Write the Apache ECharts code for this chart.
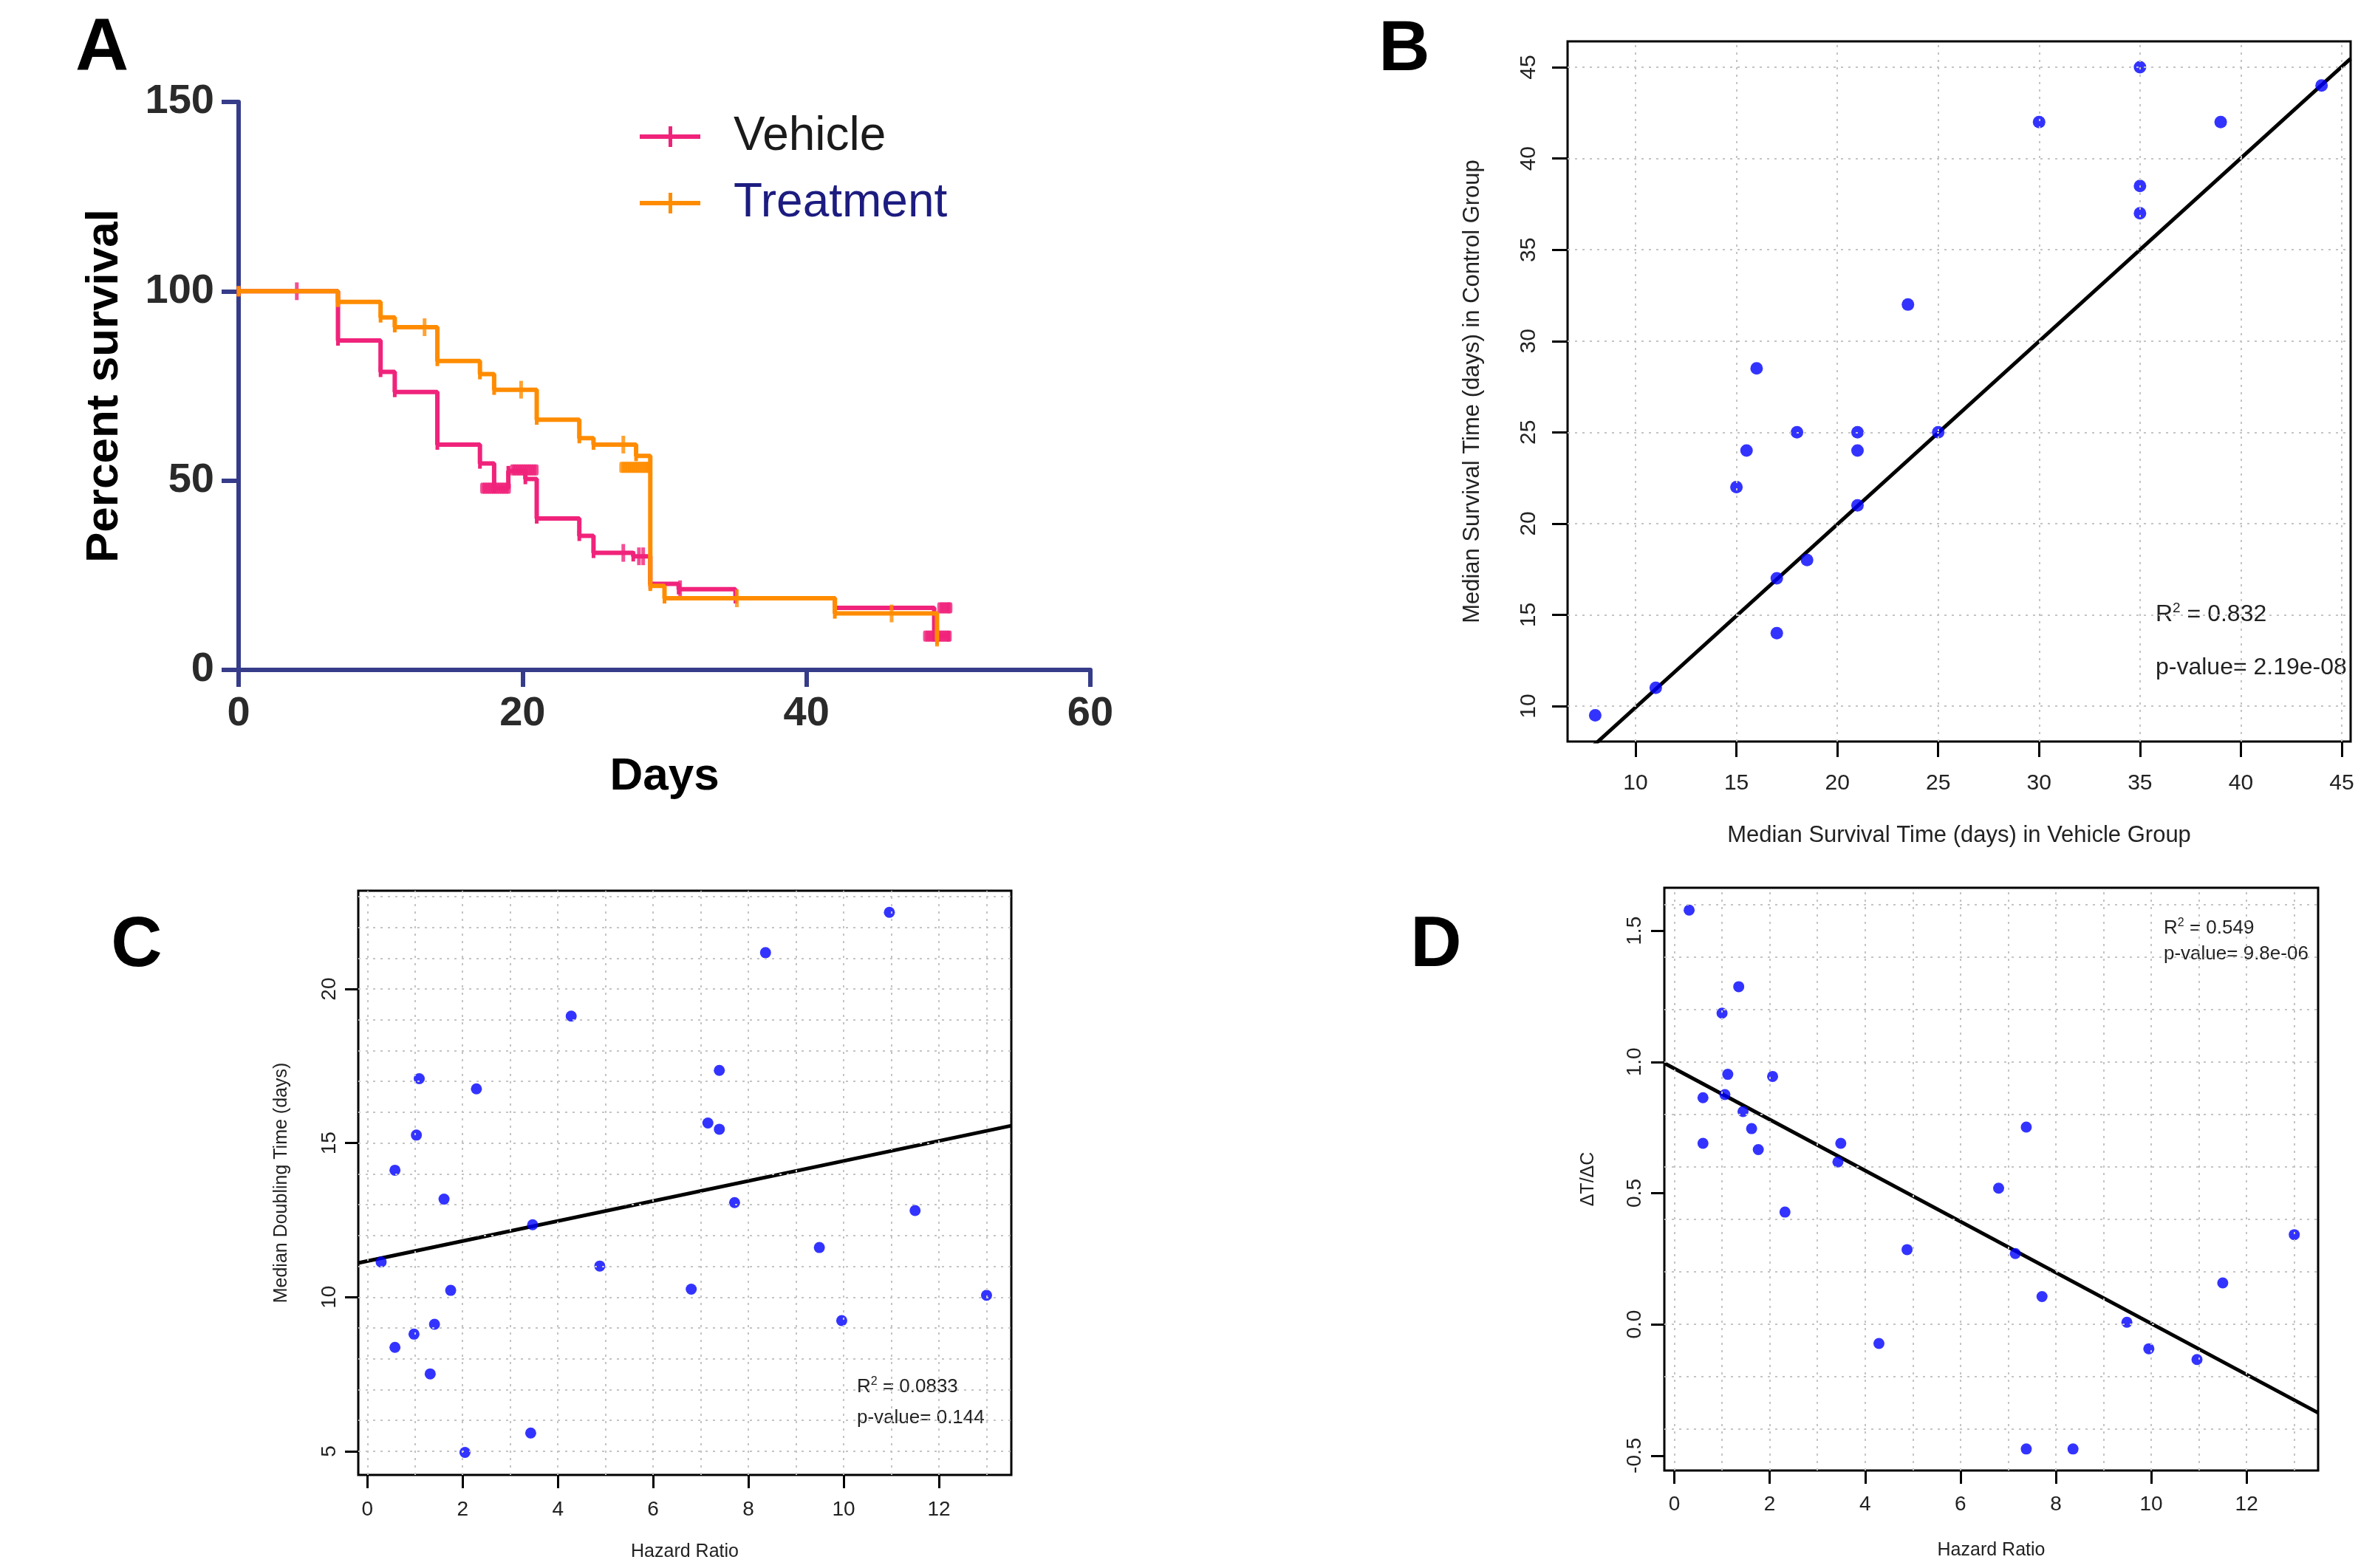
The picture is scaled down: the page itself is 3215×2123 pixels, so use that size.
<!DOCTYPE html>
<html><head><meta charset="utf-8">
<script src="https://cdn.jsdelivr.net/npm/echarts@6/dist/echarts.min.js"></script>
<style>html,body{margin:0;padding:0;background:#fff}#c{width:3215px;height:2123px}</style>
</head><body><div id="c"></div>
<script>
// ---------- Panel A : Kaplan-Meier ----------
const aDayTicks = [0, 20, 40, 60];
const aPctTicks = [0, 50, 100, 150];
const vehicleDays = [0, 7, 10, 11, 14, 17, 18, 19, 20.2, 21, 24, 25, 27.8, 29, 31, 35, 42, 49, 50];
const vehiclePct  = [100, 87, 78.7, 73.4, 59.5, 54.5, 48, 52.5, 50.4, 40, 35.4, 30.9, 30, 22.7, 21.3, 18.9, 16.4, 8.9, 8.9];
// single censor ticks
const vehicleCensorDays = [4.1, 27.1, 28.2, 28.5, 31.1];
const vehicleCensorPct  = [100, 30.9, 30, 30, 21.3];
// dense clusters of censor ticks (appear as thick blobs)
const vehicleClusterDays = [17.2, 17.35, 17.5, 17.65, 17.8, 17.95, 18.1, 18.25, 18.4, 18.55, 18.7, 18.85, 19.0,
  19.3, 19.45, 19.6, 19.75, 19.9, 20.05, 20.2, 20.35, 20.5, 20.65, 20.8, 20.95,
  49.4, 49.55, 49.7, 49.85, 50.0, 50.1,
  48.4, 48.55, 48.7, 48.85, 49.0, 49.15, 49.3, 49.45, 49.6, 49.75, 49.9, 50.05];
const vehicleClusterPct = [48, 48, 48, 48, 48, 48, 48, 48, 48, 48, 48, 48, 48,
  52.8, 52.8, 52.8, 52.8, 52.8, 52.8, 52.8, 52.8, 52.8, 52.8, 52.8, 52.8,
  16.4, 16.4, 16.4, 16.4, 16.4, 16.4,
  8.9, 8.9, 8.9, 8.9, 8.9, 8.9, 8.9, 8.9, 8.9, 8.9, 8.9, 8.9];
const treatDays = [0, 7, 10, 11, 14, 17, 18, 21, 24, 25, 28, 29, 30, 42, 49.2];
const treatPct  = [100, 97.2, 93.1, 90.5, 81.6, 78.1, 74, 66.1, 61.2, 59.5, 56.5, 22.2, 18.9, 14.9, 7.9];
const treatCensorDays = [13.1, 19.9, 27.1, 35.1, 46.0, 49.2];
const treatCensorPct  = [90.5, 74, 59.5, 18.9, 14.9, 8.5];
const treatClusterDays = [27.0, 27.15, 27.3, 27.45, 27.6, 27.75, 27.9, 28.05, 28.2, 28.35, 28.5, 28.65, 28.8, 28.9];
const treatClusterPct  = [53.5, 53.5, 53.5, 53.5, 53.5, 53.5, 53.5, 53.5, 53.5, 53.5, 53.5, 53.5, 53.5, 53.5];

// ---------- Panel B ----------
const bTicks = [10, 15, 20, 25, 30, 35, 40, 45];
const bVehicle = [8, 11, 15, 15.5, 16, 17, 17, 18, 18.5, 21, 21, 21, 23.5, 25, 30, 35, 35, 35, 39, 44];
const bControl = [9.5, 11, 22, 24, 28.5, 17, 14, 25, 18, 25, 24, 21, 32, 25, 42, 45, 38.5, 37, 42, 44];
const bSlope = 1.003, bIntercept = -0.1;

// ---------- Panel C / D ----------
const hazardRatio = [0.29, 0.58, 0.58, 0.98, 1.03, 1.09, 1.32, 1.41, 1.61, 1.75, 2.05, 2.29, 3.43, 3.47, 4.28, 4.88, 6.80, 7.15, 7.39, 7.39, 7.71, 8.36, 9.49, 9.96, 10.96, 11.50, 13.0];
const doublingTime = [11.14, 14.12, 8.37, 8.80, 15.26, 17.09, 7.51, 9.12, 13.18, 10.22, 4.96, 16.76, 5.59, 12.35, 19.12, 11.01, 10.26, 15.65, 17.36, 15.45, 13.07, 21.18, 11.61, 9.24, 22.49, 12.81, 10.06];
const cSlope = 0.325, cIntercept = 11.17;
const dHazard = [0.31, 0.60, 0.60, 1.00, 1.06, 1.12, 1.35, 1.44, 1.62, 1.76, 2.06, 2.32, 3.43, 3.49, 4.29, 4.88, 6.80, 7.15, 7.38, 7.38, 7.71, 8.36, 9.49, 9.95, 10.96, 11.50, 13.0];
const dRatio  = [1.579, 0.864, 0.690, 1.186, 0.876, 0.953, 1.287, 0.811, 0.746, 0.666, 0.945, 0.428, 0.619, 0.690, -0.073, 0.285, 0.519, 0.270, 0.752, -0.475, 0.106, -0.475, 0.008, -0.093, -0.134, 0.158, 0.342];
const dSlope = -0.0972, dIntercept = 0.975;
const cTicksX = [0, 2, 4, 6, 8, 10, 12];
const cTicksY = [5, 10, 15, 20];
const dTicksY = [-0.5, 0.0, 0.5, 1.0, 1.5];
const cGridX = [0,1,2,3,4,5,6,7,8,9,10,11,12,13];
const cGridY = [5,6,7,8,9,10,11,12,13,14,15,16,17,18,19,20,21,22,23];
const dGridY = [-0.4,-0.2,0,0.2,0.4,0.6,0.8,1.0,1.2,1.4,1.6];

const SANS = '"Liberation Sans", Arial, Helvetica, sans-serif';
const NAVY = '#363c89';
const PINK = '#f0237b';
const ORANGE = '#ff8c00';

const zip = (a, b) => a.map((v, i) => [v, b[i]]);

const R = {
  B: {x: [6.63, 45.44], y: [8.06, 46.42]},
  C: {x: [-0.19, 13.52], y: [4.23, 23.19]},
  D: {x: [-0.21, 13.5], y: [-0.557, 1.664]}
};

function frameX(gi, rng, ticks, name, o) {
  return {
    type: 'value', gridIndex: gi, min: rng[0], max: rng[1],
    axisLine: {show: false, onZero: false},
    axisTick: {show: true, inside: false, length: o.tick, customValues: ticks, lineStyle: {color: '#000', width: 3}},
    axisLabel: {show: true, customValues: ticks, margin: o.margin, fontSize: o.fs, fontFamily: SANS, color: '#222',
      formatter: v => o.fmt ? o.fmt(v) : String(v)},
    splitLine: {show: false},
    name: name, nameLocation: 'middle', nameGap: o.nameGap,
    nameTextStyle: {fontSize: o.nfs, fontFamily: SANS, color: '#222'}
  };
}
function frameY(gi, rng, ticks, name, o) {
  const ax = frameX(gi, rng, ticks, name, o);
  ax.axisLabel.rotate = 90;
  ax.nameRotate = 90;
  return ax;
}
function gridLines(xi, xs, ys) {
  return {
    type: 'line', xAxisIndex: xi, yAxisIndex: xi, data: [], silent: true, z: 1,
    markLine: {
      silent: true, symbol: ['none', 'none'], label: {show: false}, animation: false,
      emphasis: {disabled: true},
      lineStyle: {color: '#c4c4c4', type: [3, 7], width: 2},
      data: xs.map(v => ({xAxis: v})).concat(ys.map(v => ({yAxis: v})))
    }
  };
}
function regLine(xi, rng, a, b) {
  return {
    type: 'line', xAxisIndex: xi, yAxisIndex: xi, z: 3, silent: true,
    data: [[rng[0], a + b * rng[0]], [rng[1], a + b * rng[1]]],
    showSymbol: false, lineStyle: {color: '#000', width: 5}, clip: true
  };
}
function dots(xi, xs, ys, size) {
  return {
    type: 'scatter', xAxisIndex: xi, yAxisIndex: xi, z: 4, silent: true,
    data: zip(xs, ys), symbolSize: size, itemStyle: {color: '#0000ff'}
  };
}
const fmt1 = v => v.toFixed(1);

const option = {
  animation: false,
  backgroundColor: '#fff',
  grid: [
    {left: 323, top: 138, width: 1153, height: 769, show: false},
    {left: 2122, top: 56, width: 1060, height: 948, show: true, borderColor: '#000', borderWidth: 3},
    {left: 485, top: 1206, width: 884, height: 791, show: true, borderColor: '#000', borderWidth: 3},
    {left: 2253, top: 1202, width: 885, height: 789, show: true, borderColor: '#000', borderWidth: 3}
  ],
  legend: {
    left: 861, top: 148, orient: 'vertical', itemWidth: 82, itemHeight: 28, itemGap: 26,
    icon: 'path://M0,11L82,11L82,17L0,17Z M39,0L44,0L44,28L39,28Z',
    textStyle: {fontSize: 64, fontFamily: SANS, padding: [0, 0, 0, 40]},
    selectedMode: false,
    data: [
      {name: 'Vehicle', textStyle: {color: '#1a1a1a'}},
      {name: 'Treatment', textStyle: {color: '#1c1c80'}}
    ]
  },
  xAxis: [
    {
      type: 'value', gridIndex: 0, min: 0, max: 60, interval: 20,
      axisLine: {show: true, onZero: false, lineStyle: {color: NAVY, width: 6}},
      axisTick: {show: true, inside: false, length: 23, lineStyle: {color: NAVY, width: 6}},
      axisLabel: {margin: 32, fontSize: 56, fontWeight: 'bold', fontFamily: SANS, color: '#2a2a2a'},
      splitLine: {show: false},
      name: 'Days', nameLocation: 'middle', nameGap: 114,
      nameTextStyle: {fontSize: 62, fontWeight: 'bold', fontFamily: SANS, color: '#000'}
    },
    frameX(1, R.B.x, bTicks, 'Median Survival Time (days) in Vehicle Group', {tick: 21, margin: 42, fs: 30, nameGap: 112, nfs: 31}),
    frameX(2, R.C.x, cTicksX, 'Hazard Ratio', {tick: 18, margin: 33, fs: 28, nameGap: 92, nfs: 25}),
    frameX(3, R.D.x, cTicksX, 'Hazard Ratio', {tick: 18, margin: 32, fs: 28, nameGap: 96, nfs: 25})
  ],
  yAxis: [
    {
      type: 'value', gridIndex: 0, min: 0, max: 150, interval: 50,
      axisLine: {show: true, onZero: false, lineStyle: {color: NAVY, width: 6}},
      axisTick: {show: true, inside: false, length: 23, lineStyle: {color: NAVY, width: 6}},
      axisLabel: {margin: 33, fontSize: 56, fontWeight: 'bold', fontFamily: SANS, color: '#2a2a2a'},
      splitLine: {show: false},
      name: 'Percent survival', nameLocation: 'middle', nameGap: 150, nameRotate: 90,
      nameTextStyle: {fontSize: 62, fontWeight: 'bold', fontFamily: SANS, color: '#000'}
    },
    frameY(1, R.B.y, bTicks, 'Median Survival Time (days) in Control Group', {tick: 21, margin: 37, fs: 30, nameGap: 113, nfs: 31}),
    frameY(2, R.C.y, cTicksY, 'Median Doubling Time (days)', {tick: 18, margin: 25, fs: 28, nameGap: 91, nfs: 25}),
    frameY(3, R.D.y, dTicksY, '\u0394T/\u0394C', {tick: 18, margin: 26, fs: 28, nameGap: 90, nfs: 25, fmt: fmt1})
  ],
  series: [
    {name: 'Vehicle', type: 'line', step: 'end', xAxisIndex: 0, yAxisIndex: 0, z: 2,
      data: zip(vehicleDays, vehiclePct), showSymbol: true, symbol: 'rect', symbolSize: [5, 14],
      itemStyle: {color: PINK}, lineStyle: {color: PINK, width: 6}, clip: false},
    {name: 'Vehicle censored', type: 'scatter', xAxisIndex: 0, yAxisIndex: 0, z: 2,
      data: zip(vehicleCensorDays, vehicleCensorPct), symbol: 'rect', symbolSize: [5, 24], itemStyle: {color: PINK}},
    {name: 'Vehicle censored cluster', type: 'scatter', xAxisIndex: 0, yAxisIndex: 0, z: 2,
      data: zip(vehicleClusterDays, vehicleClusterPct), symbol: 'roundRect', symbolSize: [7, 15], itemStyle: {color: PINK}},
    {name: 'Treatment', type: 'line', step: 'end', xAxisIndex: 0, yAxisIndex: 0, z: 3,
      data: zip(treatDays, treatPct), showSymbol: true, symbol: 'rect', symbolSize: [5, 14],
      itemStyle: {color: ORANGE}, lineStyle: {color: ORANGE, width: 6}, clip: false},
    {name: 'Treatment censored', type: 'scatter', xAxisIndex: 0, yAxisIndex: 0, z: 3,
      data: zip(treatCensorDays, treatCensorPct), symbol: 'rect', symbolSize: [5, 24], itemStyle: {color: ORANGE}},
    {name: 'Treatment censored cluster', type: 'scatter', xAxisIndex: 0, yAxisIndex: 0, z: 3,
      data: zip(treatClusterDays, treatClusterPct), symbol: 'roundRect', symbolSize: [7, 15], itemStyle: {color: ORANGE}},

    gridLines(1, bTicks, bTicks),
    regLine(1, R.B.x, bIntercept, bSlope),
    dots(1, bVehicle, bControl, 17),

    gridLines(2, cGridX, cGridY),
    regLine(2, R.C.x, cIntercept, cSlope),
    dots(2, hazardRatio, doublingTime, 15),

    gridLines(3, cGridX, dGridY),
    regLine(3, R.D.x, dIntercept, dSlope),
    dots(3, dHazard, dRatio, 15)
  ],
  graphic: {elements: [
    {type: 'text', x: 138, y: 67, style: {text: 'A', fontSize: 100, fontWeight: 'bold', fontFamily: SANS, fill: '#000', align: 'center', verticalAlign: 'middle'}},
    {type: 'text', x: 1901, y: 69, style: {text: 'B', fontSize: 96, fontWeight: 'bold', fontFamily: SANS, fill: '#000', align: 'center', verticalAlign: 'middle'}},
    {type: 'text', x: 185, y: 1282, style: {text: 'C', fontSize: 96, fontWeight: 'bold', fontFamily: SANS, fill: '#000', align: 'center', verticalAlign: 'middle'}},
    {type: 'text', x: 1944, y: 1282, style: {text: 'D', fontSize: 96, fontWeight: 'bold', fontFamily: SANS, fill: '#000', align: 'center', verticalAlign: 'middle'}},

    {type: 'text', x: 2918, y: 832, style: {text: '{a|R}{s|2}{a| = 0.832}', fontFamily: SANS, fill: '#222', verticalAlign: 'middle',
      rich: {a: {fontSize: 32, fontFamily: SANS, fill: '#222', lineHeight: 36}, s: {fontSize: 19, fontFamily: SANS, fill: '#222', verticalAlign: 'top', lineHeight: 36}}}},
    {type: 'text', x: 2918, y: 904, style: {text: 'p-value= 2.19e-08', fontSize: 32, fontFamily: SANS, fill: '#222', verticalAlign: 'middle'}},

    {type: 'text', x: 1160, y: 1878, style: {text: '{a|R}{s|2}{a| = 0.0833}', fontFamily: SANS, fill: '#222', verticalAlign: 'middle',
      rich: {a: {fontSize: 26, fontFamily: SANS, fill: '#222', lineHeight: 30}, s: {fontSize: 16, fontFamily: SANS, fill: '#222', verticalAlign: 'top', lineHeight: 30}}}},
    {type: 'text', x: 1160, y: 1920, style: {text: 'p-value= 0.144', fontSize: 26, fontFamily: SANS, fill: '#222', verticalAlign: 'middle'}},

    {type: 'text', x: 2929, y: 1257, style: {text: '{a|R}{s|2}{a| = 0.549}', fontFamily: SANS, fill: '#222', verticalAlign: 'middle',
      rich: {a: {fontSize: 26, fontFamily: SANS, fill: '#222', lineHeight: 30}, s: {fontSize: 16, fontFamily: SANS, fill: '#222', verticalAlign: 'top', lineHeight: 30}}}},
    {type: 'text', x: 2929, y: 1292, style: {text: 'p-value= 9.8e-06', fontSize: 26, fontFamily: SANS, fill: '#222', verticalAlign: 'middle'}}
  ]}
};

const chart = echarts.init(document.getElementById('c'), null, {renderer: 'canvas', width: 3215, height: 2123});
chart.setOption(option);
</script>
</body></html>
